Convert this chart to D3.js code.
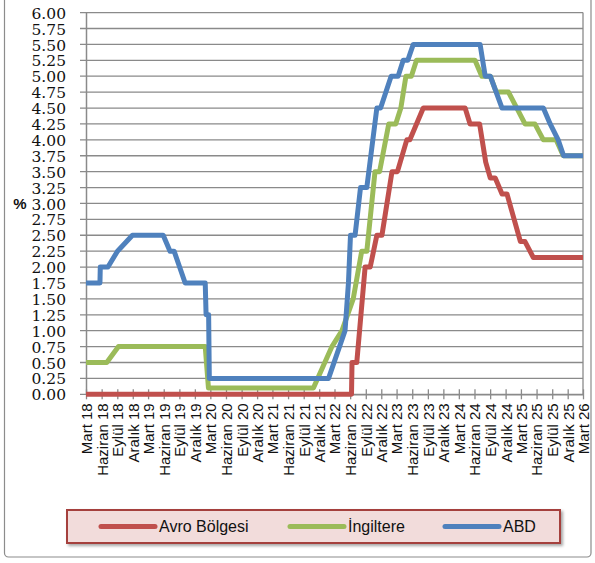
<!DOCTYPE html>
<html><head><meta charset="utf-8">
<script src="https://cdn.jsdelivr.net/npm/d3@7"></script>
<style>html,body{margin:0;padding:0;background:#fff;}svg{display:block;}</style>
</head><body>
<svg id="chart" width="595" height="563"></svg>
<script>
// ---- data ----
const seriesNames = ["Avro Bölgesi", "İngiltere", "ABD"];
const seriesColors = ["#C0504D", "#9BBB59", "#4F81BD"];

const avroDates = ["2018-03-01","2022-06-09","2022-06-12","2022-07-10","2022-08-28","2022-09-27","2022-11-05","2022-12-05","2023-02-02","2023-03-06","2023-04-30","2023-05-18","2023-08-05","2024-04-07","2024-05-06","2024-07-01","2024-08-06","2024-09-02","2024-10-01","2024-11-10","2024-12-09","2025-02-26","2025-03-25","2025-05-13","2026-03-01"];
const avroValues = [0,0,0.50,0.50,2.00,2.00,2.50,2.50,3.50,3.50,4.00,4.00,4.50,4.50,4.25,4.25,3.65,3.40,3.40,3.15,3.15,2.40,2.40,2.15,2.15];

const ingDates = ["2018-03-01","2018-07-01","2018-09-08","2020-01-31","2020-02-19","2021-10-28","2022-02-14","2022-04-14","2022-06-19","2022-08-08","2022-09-07","2022-10-25","2022-11-21","2023-01-14","2023-02-24","2023-03-26","2023-04-25","2023-05-27","2023-06-26","2024-06-04","2024-07-14","2024-09-02","2024-10-07","2024-12-18","2025-03-25","2025-05-22","2025-07-11","2025-09-24","2025-11-05","2026-03-01"];
const ingValues = [0.50,0.50,0.75,0.75,0.10,0.10,0.75,1.00,1.50,2.25,2.25,3.50,3.50,4.25,4.25,4.50,5.00,5.00,5.25,5.25,5.00,5.00,4.75,4.75,4.25,4.25,4.00,4.00,3.75,3.75];

const abdDates = ["2018-03-01","2018-05-22","2018-05-24","2018-07-08","2018-09-02","2018-11-29","2019-05-29","2019-07-08","2019-08-01","2019-10-05","2020-01-31","2020-02-05","2020-02-20","2020-02-24","2022-01-25","2022-05-02","2022-05-22","2022-06-03","2022-06-30","2022-08-01","2022-09-07","2022-11-05","2022-11-27","2023-01-28","2023-03-10","2023-04-09","2023-05-06","2023-06-07","2024-07-04","2024-08-03","2024-09-02","2024-11-10","2025-07-11","2025-08-20","2025-10-06","2025-11-07","2026-03-01"];
const abdValues = [1.75,1.75,2.00,2.00,2.25,2.50,2.50,2.25,2.25,1.75,1.75,1.25,1.25,0.25,0.25,1.00,1.75,2.50,2.50,3.25,3.25,4.50,4.50,5.00,5.00,5.25,5.25,5.50,5.50,5.00,5.00,4.50,4.50,4.25,4.00,3.75,3.75];

const xTickLabels = ["Mart 18","Haziran 18","Eylül 18","Aralık 18","Mart 19","Haziran 19","Eylül 19","Aralık 19","Mart 20","Haziran 20","Eylül 20","Aralık 20","Mart 21","Haziran 21","Eylül 21","Aralık 21","Mart 22","Haziran 22","Eylül 22","Aralık 22","Mart 23","Haziran 23","Eylül 23","Aralık 23","Mart 24","Haziran 24","Eylül 24","Aralık 24","Mart 25","Haziran 25","Eylül 25","Aralık 25","Mart 26"];
const yTicks = [0,0.25,0.5,0.75,1,1.25,1.5,1.75,2,2.25,2.5,2.75,3,3.25,3.5,3.75,4,4.25,4.5,4.75,5,5.25,5.5,5.75,6];
const yLabel = "%";

// ---- drawing ----
const parse = d3.timeParse("%Y-%m-%d");
const svg = d3.select("#chart");
const L = 86, R = 583, T = 12.6, B = 394.3;
const start = parse("2018-03-01"), end = parse("2026-03-01");
const x = d3.scaleTime().domain([start, end]).range([L, R]);
const y = d3.scaleLinear().domain([0, 6]).range([B, T]);
const tickDates = d3.timeMonth.range(start, d3.timeDay.offset(end, 1), 3);

// outer border
svg.append("rect").attr("x", 4.5).attr("y", -6).attr("width", 586.5).attr("height", 563)
  .attr("rx", 4).attr("fill", "#fff").attr("stroke", "#8c8c8c").attr("stroke-width", 1.2);

// gridlines
svg.append("g").selectAll("line").data(yTicks).join("line")
  .attr("x1", L - 6).attr("x2", R).attr("y1", d => y(d)).attr("y2", d => y(d))
  .attr("stroke", "#8a8a8a").attr("stroke-width", 1.3);
// right border of plot
svg.append("line").attr("x1", R).attr("x2", R).attr("y1", T).attr("y2", B)
  .attr("stroke", "#8a8a8a").attr("stroke-width", 1.3);

// y axis
const yAxis = d3.axisLeft(y).tickValues(yTicks).tickFormat(d3.format(".2f")).tickSize(0).tickPadding(20);
const gy = svg.append("g").attr("transform", `translate(${L},0)`).call(yAxis);
gy.attr("font-family", null);
gy.select(".domain").attr("stroke", "#8a8a8a").attr("stroke-width", 1.5);
gy.selectAll("text").style("font-family", "'DejaVu Serif', 'Liberation Serif', serif").style("font-size", "15.5px").attr("fill", "#111").attr("dy", "0.36em");

// % label
svg.append("text").attr("x", 20).attr("y", y(3)).attr("dy", "0.36em").attr("text-anchor", "middle")
  .style("font-family", "'Liberation Sans', Arial, sans-serif").attr("font-weight", "bold").style("font-size", "15px").attr("fill", "#111").text(yLabel);

// x axis
const xAxis = d3.axisBottom(x).tickValues(tickDates).tickFormat((d, i) => xTickLabels[i]).tickSize(5).tickSizeOuter(0);
const gx = svg.append("g").attr("transform", `translate(0,${B})`).call(xAxis);
gx.select(".domain").attr("stroke", "#8a8a8a").attr("stroke-width", 1.5);
gx.selectAll(".tick line").attr("stroke", "#8a8a8a").attr("stroke-width", 1.3).attr("y1", -5).attr("y2", 5);
gx.selectAll("text").style("font-family", "'Liberation Sans', Arial, sans-serif").style("font-size", "15px").attr("fill", "#111")
  .attr("text-anchor", "end").attr("transform", "rotate(-90)").attr("x", -9).attr("y", 0).attr("dy", "0.36em");

// lines
const allSeries = [
  avroDates.map((d, i) => ({date: parse(d), value: avroValues[i]})),
  ingDates.map((d, i) => ({date: parse(d), value: ingValues[i]})),
  abdDates.map((d, i) => ({date: parse(d), value: abdValues[i]}))
];
const line = d3.line().x(d => x(d.date)).y(d => y(d.value));
svg.append("g").selectAll("path").data(allSeries).join("path")
  .attr("d", line).attr("fill", "none")
  .attr("stroke", (d, i) => seriesColors[i]).attr("stroke-width", 5)
  .attr("stroke-linejoin", "round").attr("stroke-linecap", "butt");

// legend
const defs = svg.append("defs");
const f = defs.append("filter").attr("id", "sh").attr("x", "-10%").attr("y", "-50%").attr("width", "120%").attr("height", "200%");
f.append("feDropShadow").attr("dx", 2).attr("dy", 2).attr("stdDeviation", 1.5).attr("flood-color", "#000").attr("flood-opacity", 0.35);
svg.append("rect").attr("x", 67).attr("y", 510).attr("width", 493).attr("height", 33)
  .attr("fill", "#F2DCDB").attr("stroke", "#A5403D").attr("stroke-width", 2).attr("filter", "url(#sh)");
const legX = [101, 290, 445];
const lg = svg.append("g").selectAll("g").data(seriesNames).join("g")
  .attr("transform", (d, i) => `translate(${legX[i]},526.5)`);
lg.append("line").attr("x1", 0).attr("x2", 54).attr("stroke", (d, i) => seriesColors[i])
  .attr("stroke-width", 5).attr("stroke-linecap", "round");
lg.append("text").attr("x", 58).attr("dy", "0.36em").style("font-family", "'Liberation Sans', Arial, sans-serif")
  .style("font-size", "16px").attr("fill", "#111").text(d => d);
</script>
</body></html>
